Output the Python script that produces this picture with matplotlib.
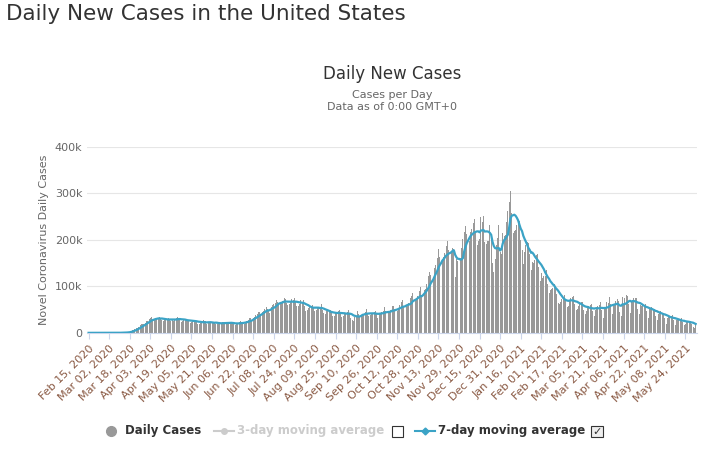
import numpy as np
import pandas as pd
import matplotlib.pyplot as plt
from matplotlib.lines import Line2D
from matplotlib.patches import Rectangle

# daily new cases (thousands), weeks starting Sat Feb 15 2020
weeks = [
    [0, 0, 0, 0, 0, 0, 0], [0, 0, 0, 0, 0, 0, 0],
    [0.01, 0.02, 0.03, 0.03, 0.04, 0.05, 0.1], [0.1, 0.1, 0.2, 0.3, 0.4, 0.5, 0.7],
    [0.9, 1, 1.3, 1.8, 2.8, 4.5, 6], [7, 9, 10, 11, 13, 17, 19],
    [20, 19, 21, 25, 26, 29, 32], [34, 26, 29, 31, 31, 33, 35],
    [30, 27, 26, 27, 29, 30, 32], [30, 26, 27, 26, 29, 31, 35],
    [33, 27, 24, 25, 27, 29, 30], [28, 25, 22, 23, 25, 28, 27],
    [25, 20, 19, 22, 21, 27, 25], [25, 18, 21, 22, 22, 24, 23],
    [22, 20, 19, 18, 20, 22, 24], [23, 20, 21, 20, 21, 22, 24],
    [21, 18, 17, 19, 21, 23, 25], [24, 19, 20, 23, 26, 28, 32],
    [31, 26, 32, 35, 38, 40, 44], [44, 38, 44, 48, 52, 56, 52],
    [48, 43, 56, 60, 63, 65, 70], [66, 60, 63, 67, 68, 76, 72],
    [65, 60, 62, 66, 72, 70, 74], [66, 58, 57, 63, 70, 67, 70],
    [58, 47, 49, 54, 55, 58, 60], [56, 48, 49, 53, 55, 53, 62],
    [50, 42, 40, 46, 47, 45, 49], [45, 37, 37, 42, 44, 46, 50],
    [43, 35, 36, 41, 40, 44, 50], [43, 31, 28, 26, 35, 37, 48],
    [40, 34, 37, 40, 39, 45, 52], [43, 36, 38, 40, 40, 45, 48],
    [42, 33, 40, 42, 44, 46, 56], [48, 36, 42, 44, 49, 58, 58],
    [52, 44, 47, 53, 59, 66, 70], [56, 48, 59, 62, 65, 74, 80],
    [86, 61, 68, 74, 79, 90, 98], [81, 77, 92, 95, 105, 122, 130],
    [125, 107, 121, 140, 145, 162, 180], [164, 136, 160, 163, 172, 188, 197],
    [178, 145, 172, 183, 181, 120, 160], [155, 144, 162, 183, 202, 218, 230],
    [213, 182, 198, 217, 223, 236, 246], [220, 189, 198, 203, 250, 238, 252],
    [196, 192, 197, 198, 233, 210, 150], [130, 160, 190, 204, 232, 175, 170],
    [215, 208, 211, 238, 263, 282, 305], [259, 214, 219, 222, 232, 242, 240],
    [200, 178, 148, 175, 190, 195, 193], [170, 135, 152, 150, 156, 168, 170],
    [142, 111, 128, 117, 122, 122, 135], [106, 85, 92, 94, 96, 106, 101],
    [84, 64, 62, 66, 72, 78, 82], [71, 56, 57, 71, 75, 77, 79],
    [63, 50, 52, 58, 66, 67, 66], [50, 40, 46, 55, 58, 61, 62],
    [47, 37, 50, 56, 58, 60, 66], [50, 33, 52, 55, 66, 64, 77],
    [62, 40, 57, 62, 69, 72, 68], [44, 36, 78, 63, 74, 82, 80],
    [63, 43, 66, 71, 74, 76, 74], [52, 40, 60, 58, 63, 60, 62],
    [46, 33, 51, 52, 56, 50, 52], [36, 28, 40, 45, 47, 43, 42],
    [33, 20, 33, 35, 34, 37, 38], [27, 17, 27, 29, 27, 29, 31],
    [23, 16, 20, 26, 24, 26, 25], [19, 13, 10, 17],
]
daily = np.array([v for w in weeks for v in w]) * 1000
dates = pd.date_range("2020-02-15", periods=len(daily), freq="D")
avg7 = pd.Series(daily).rolling(7, min_periods=1).mean().values

tick_dates = pd.date_range("2020-02-15", "2021-05-31", freq="16D")
tick_labels = [d.strftime("%b %d, %Y") for d in tick_dates]

fig = plt.figure(figsize=(7.04, 4.51), dpi=100)
ax = fig.add_axes([0.124, 0.262, 0.866, 0.412])
x = np.arange(len(daily))
ax.bar(x, daily, width=0.75, color="#999999", zorder=2)
ax.plot(x, avg7, color="#3ba3c6", lw=1.6, zorder=3)

ax.set_ylim(0, 400000)
ax.set_yticks([0, 100000, 200000, 300000, 400000])
ax.set_yticklabels(["0", "100k", "200k", "300k", "400k"], color="#666666", fontsize=8)
ax.set_xlim(-1, len(daily))
ax.set_xticks([(d - dates[0]).days for d in tick_dates])
ax.set_xticklabels(tick_labels, rotation=45, ha="right", rotation_mode="anchor",
                   fontsize=8, color="#8a5a44")
ax.tick_params(axis="y", length=0)
ax.tick_params(axis="x", length=4, color="#ccd6eb")
ax.grid(axis="y", color="#e6e6e6", lw=0.8, zorder=0)
for s in ["top", "right", "left"]:
    ax.spines[s].set_visible(False)
ax.spines["bottom"].set_color("#ccd6eb")
ax.set_ylabel("Novel Coronavirus Daily Cases", fontsize=8, color="#666666")

fig.text(0.008, 0.955, "Daily New Cases in the United States", fontsize=15.5, color="#333333")
fig.text(0.557, 0.825, "Daily New Cases", fontsize=12, color="#333333", ha="center")
fig.text(0.557, 0.755, "Cases per Day\nData as of 0:00 GMT+0", fontsize=8,
         color="#666666", ha="center", linespacing=1.3)

ly = 0.045
fig.add_artist(Line2D([0.158], [ly], marker="o", color="#999999", ms=7, transform=fig.transFigure))
fig.text(0.177, ly, "Daily Cases", fontsize=8.5, weight="bold", va="center", color="#333333")
fig.add_artist(Line2D([0.304, 0.333], [ly, ly], color="#cccccc", lw=1.5, transform=fig.transFigure))
fig.add_artist(Line2D([0.318], [ly], marker="o", color="#cccccc", ms=4, transform=fig.transFigure))
fig.text(0.337, ly, "3-day moving average", fontsize=8.5, weight="bold", va="center", color="#cccccc")
fig.add_artist(Rectangle((0.557, ly - 0.014), 0.016, 0.025, fill=False, ec="#333333", lw=0.8,
                         transform=fig.transFigure))
fig.add_artist(Line2D([0.589, 0.618], [ly, ly], color="#3ba3c6", lw=1.5, transform=fig.transFigure))
fig.add_artist(Line2D([0.603], [ly], marker="D", color="#3ba3c6", ms=3.5, transform=fig.transFigure))
fig.text(0.622, ly, "7-day moving average", fontsize=8.5, weight="bold", va="center", color="#333333")
fig.add_artist(Rectangle((0.840, ly - 0.014), 0.016, 0.025, fc="#eeeeee", ec="#333333", lw=0.8,
                         transform=fig.transFigure))
fig.text(0.848, ly - 0.002, "✓", fontsize=8, ha="center", va="center", color="#333333")

fig.savefig("out.png", dpi=100)
